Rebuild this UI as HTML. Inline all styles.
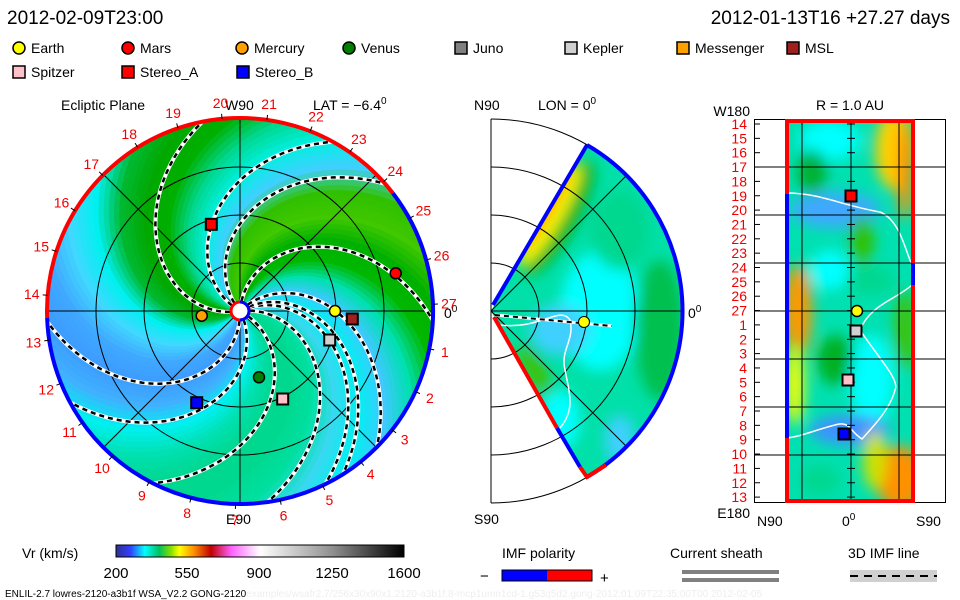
<!DOCTYPE html>
<html><head><meta charset="utf-8">
<style>
html,body{margin:0;padding:0;background:#fff;}
svg{display:block;font-family:"Liberation Sans",sans-serif;}
</style></head>
<body>
<svg id="svg" width="960" height="600" viewBox="0 0 960 600" xmlns="http://www.w3.org/2000/svg">
<defs>
  <clipPath id="eclClip"><circle cx="240" cy="311" r="193"/></clipPath>
  <clipPath id="wedgeClip"><path d="M491,311 L587,145 A192,192 0 0 1 587,477 Z"/></clipPath>
  <clipPath id="rectClip"><rect x="786" y="120" width="128" height="383"/></clipPath>
  <filter id="blur" x="-20%" y="-20%" width="140%" height="140%"><feGaussianBlur stdDeviation="7"/></filter>
  <linearGradient id="cbar" x1="0" x2="1" y1="0" y2="0">
    <stop offset="0" stop-color="#303090"/>
    <stop offset="0.05" stop-color="#3040ff"/>
    <stop offset="0.1" stop-color="#00ffff"/>
    <stop offset="0.15" stop-color="#00c060"/>
    <stop offset="0.19" stop-color="#80e000"/>
    <stop offset="0.22" stop-color="#ffff00"/>
    <stop offset="0.27" stop-color="#ff9000"/>
    <stop offset="0.33" stop-color="#c00000"/>
    <stop offset="0.4" stop-color="#ff60ff"/>
    <stop offset="0.5" stop-color="#ffffff"/>
    <stop offset="0.75" stop-color="#909090"/>
    <stop offset="1" stop-color="#000000"/>
  </linearGradient>
</defs>

<!-- header -->
<text x="7" y="24" font-size="19">2012-02-09T23:00</text>
<text x="950" y="24" font-size="19" text-anchor="end">2012-01-13T16 +27.27 days</text>

<g id="legend" font-size="14"></g>

<!-- left panel -->
<g>
  <text x="61" y="110" font-size="14">Ecliptic Plane</text>
  <text x="225" y="110" font-size="14">W90</text>
  <text x="313" y="110" font-size="14">LAT = −6.4<tspan font-size="10" dy="-6">0</tspan></text>
  <text x="226" y="524" font-size="14">E90</text>
  <text x="444" y="318" font-size="14">0<tspan font-size="10" dy="-6">0</tspan></text>
  <g id="eclBands" clip-path="url(#eclClip)"></g>
  <g id="eclGrid" fill="none" stroke="#000" stroke-width="1">
    <circle cx="240" cy="311" r="48"/><circle cx="240" cy="311" r="96"/><circle cx="240" cy="311" r="144"/>
    <line x1="47" y1="311" x2="433" y2="311"/><line x1="240" y1="118" x2="240" y2="504"/>
    <line x1="104" y1="175" x2="376" y2="447"/><line x1="104" y1="447" x2="376" y2="175"/>
  </g>
  <g id="eclLines" clip-path="url(#eclClip)"></g>
  <g id="eclRing"></g>
  <g id="eclLabels" font-size="14" fill="#f00000"></g>
  <g>
    <circle cx="240" cy="311" r="9" fill="#fff" stroke="#f00" stroke-width="3"/>
    <path d="M240,302 A9,9 0 0 1 240,320" fill="none" stroke="#00f" stroke-width="3"/>
  </g>
  <g id="eclBodies"></g>
</g>

<!-- middle panel -->
<g>
  <text x="474" y="110" font-size="14">N90</text>
  <text x="538" y="110" font-size="14">LON = 0<tspan font-size="10" dy="-6">0</tspan></text>
  <text x="688" y="318" font-size="14">0<tspan font-size="10" dy="-6">0</tspan></text>
  <text x="474" y="524" font-size="14">S90</text>
  <g clip-path="url(#wedgeClip)">
    <rect x="480" y="130" width="210" height="360" fill="#00e0a8"/>
    <g filter="url(#blur)">
      <ellipse cx="600" cy="311" rx="40" ry="60" fill="#00ffff"/>
      <ellipse cx="560" cy="330" rx="30" ry="25" fill="#40d0ff"/>
      <ellipse cx="660" cy="330" rx="25" ry="70" fill="#00c050"/>
      <ellipse cx="620" cy="230" rx="30" ry="40" fill="#00d890"/>
      <ellipse cx="558" cy="218" rx="20" ry="65" fill="#00b020" transform="rotate(30 558 218)"/>
      <ellipse cx="550" cy="215" rx="12" ry="58" fill="#ffff00" transform="rotate(30 550 215)"/>
      <ellipse cx="544" cy="208" rx="9" ry="50" fill="#ff9800" transform="rotate(30 544 208)"/>
      <ellipse cx="535" cy="370" rx="10" ry="30" fill="#40c000" transform="rotate(-30 535 370)"/>
      <ellipse cx="620" cy="440" rx="15" ry="25" fill="#40d0ff"/>
      <ellipse cx="560" cy="420" rx="20" ry="30" fill="#00ffff"/>
    </g>
  </g>
  <g fill="none" stroke="#000" stroke-width="1">
    <line x1="491" y1="119" x2="491" y2="503"/>
    <path d="M491,263 A48,48 0 0 1 491,359"/>
    <path d="M491,215 A96,96 0 0 1 491,407"/>
    <path d="M491,167 A144,144 0 0 1 491,455"/>
    <path d="M491,119 A192,192 0 0 1 491,503"/>
    <line x1="491" y1="311" x2="683" y2="311"/>
    <line x1="491" y1="311" x2="627" y2="175"/>
    <line x1="491" y1="311" x2="627" y2="447"/>
  </g>
  <path d="M500,325 C540,330 560,305 570,320 C575,340 560,350 565,370 C570,395 575,410 560,428" fill="none" stroke="#fff" stroke-width="1.5"/>
  <g fill="none" stroke-width="4">
    <path d="M493,305 L587,145" stroke="#0000ff"/>
    <path d="M587,145 A192,192 0 0 1 587,477" stroke="#0000ff"/>
    <path d="M494,317 L557,428" stroke="#ff0000"/>
    <path d="M557,428 L580,467" stroke="#0000ff"/>
    <path d="M580,467 L587,477 L606,465" stroke="#ff0000"/>
  </g>
  <line x1="495" y1="315" x2="612" y2="326" stroke="#fff" stroke-width="3"/>
  <line x1="495" y1="315" x2="612" y2="326" stroke="#000" stroke-width="2" stroke-dasharray="5,4"/>
  <circle cx="584" cy="322" r="5.5" fill="#ffff00" stroke="#000"/>
</g>

<!-- right panel -->
<g>
  <text x="750" y="116" font-size="14" text-anchor="end">W180</text>
  <text x="850" y="110" font-size="14" text-anchor="middle">R = 1.0 AU</text>
  <text x="750" y="518" font-size="14" text-anchor="end">E180</text>
  <text x="757" y="526" font-size="14">N90</text>
  <text x="842" y="526" font-size="14">0<tspan font-size="10" dy="-6">0</tspan></text>
  <text x="916" y="526" font-size="14">S90</text>
  <g clip-path="url(#rectClip)">
    <rect x="786" y="120" width="128" height="383" fill="#00e0b0"/>
    <g filter="url(#blur)">
      <ellipse cx="830" cy="140" rx="30" ry="20" fill="#00ffff"/>
      <ellipse cx="812" cy="172" rx="15" ry="22" fill="#00b030"/>
      <ellipse cx="835" cy="210" rx="45" ry="18" fill="#40a8ff"/>
      <ellipse cx="862" cy="240" rx="12" ry="25" fill="#30c000"/>
      <ellipse cx="798" cy="310" rx="14" ry="45" fill="#ff9800"/>
      <ellipse cx="795" cy="385" rx="9" ry="40" fill="#ffff00"/>
      <ellipse cx="835" cy="360" rx="18" ry="25" fill="#00b020"/>
      <ellipse cx="872" cy="380" rx="22" ry="45" fill="#00ffff"/>
      <ellipse cx="850" cy="430" rx="40" ry="15" fill="#4090ff"/>
      <ellipse cx="895" cy="150" rx="20" ry="40" fill="#ffd000"/>
      <ellipse cx="905" cy="170" rx="8" ry="50" fill="#ff9000"/>
      <ellipse cx="900" cy="478" rx="24" ry="32" fill="#ff9000"/>
      <ellipse cx="875" cy="460" rx="12" ry="30" fill="#d0e000"/>
      <ellipse cx="905" cy="330" rx="10" ry="40" fill="#40c000"/>
      <ellipse cx="820" cy="480" rx="20" ry="15" fill="#00d890"/>
      <ellipse cx="870" cy="280" rx="25" ry="15" fill="#00d890"/>
      <ellipse cx="830" cy="270" rx="20" ry="20" fill="#00ffff"/>
    </g>
    <path d="M786,193 C820,193 840,205 880,212 C900,220 905,250 912,265" fill="none" stroke="#fff" stroke-width="1.5"/>
    <path d="M912,285 C895,300 870,305 860,330 C880,360 900,380 895,390 C890,410 870,430 862,439 C850,432 850,420 835,425 C815,430 800,437 786,438" fill="none" stroke="#fff" stroke-width="1.5"/>
  </g>
  <g fill="none" stroke="#000" stroke-width="1" id="rectGrid">
    <rect x="754.5" y="119.5" width="191" height="383"/>
    <line x1="802" y1="120" x2="802" y2="503"/><line x1="851" y1="120" x2="851" y2="503"/><line x1="899" y1="120" x2="899" y2="503"/>
  </g>
  <g fill="none" stroke-width="4">
    <rect x="787" y="121" width="126" height="380" stroke="#ff0000"/>
    <line x1="787" y1="194" x2="787" y2="438" stroke="#0000ff"/>
    <line x1="913" y1="263" x2="913" y2="285" stroke="#0000ff"/>
  </g>
  <g id="rectLabels" font-size="14" fill="#f00000"></g>
  <g id="rectBodies"></g>
</g>

<!-- bottom legend -->
<g>
  <text x="22" y="558" font-size="14">Vr (km/s)</text>
  <rect x="116" y="545" width="288" height="12" fill="url(#cbar)" stroke="#000"/>
  <g font-size="15" text-anchor="middle">
    <text x="116" y="578">200</text><text x="187" y="578">550</text><text x="259" y="578">900</text><text x="332" y="578">1250</text><text x="404" y="578">1600</text>
  </g>
</g>
<text x="5" y="597" font-size="10">ENLIL-2.7 lowres-2120-a3b1f WSA_V2.2 GONG-2120<tspan fill="#eeeeee">examples/wsafr2.7/256x30x90x1.2120-a3b1f.8-mcp1umn1cd-1.g53q5d2.gong-2012:01:09T22:35:00T00    2012-02-05</tspan></text>
<g>
  <text x="502" y="558" font-size="14">IMF polarity</text>
  <text x="480" y="581" font-size="15">−</text>
  <rect x="502" y="570" width="45" height="11" fill="#0000ff"/>
  <rect x="547" y="570" width="45" height="11" fill="#ff0000"/>
  <rect x="502" y="570" width="90" height="11" fill="none" stroke="#000"/>
  <text x="600" y="583" font-size="15">+</text>
</g>
<g>
  <text x="670" y="558" font-size="14">Current sheath</text>
  <rect x="682" y="570" width="97" height="4" fill="#808080"/>
  <rect x="682" y="578" width="97" height="4" fill="#808080"/>
</g>
<g>
  <text x="848" y="558" font-size="14">3D IMF line</text>
  <rect x="850" y="570" width="87" height="12" fill="#d0d0d0"/>
  <line x1="850" y1="576" x2="937" y2="576" stroke="#000" stroke-width="2" stroke-dasharray="8,6"/>
</g>

<script>
const NS="http://www.w3.org/2000/svg";
function mk(tag,attrs,parent){const e=document.createElementNS(NS,tag);for(const k in attrs)e.setAttribute(k,attrs[k]);parent.appendChild(e);return e;}

// legend
const legendNames=["Earth","Mars","Mercury","Venus","Juno","Kepler","Messenger","MSL","Spitzer","Stereo_A","Stereo_B"];
const legendColors=["#ffff00","#ff0000","#ffa000","#008000","#808080","#d0d0d0","#ffa000","#a02020","#ffc0c8","#ff0000","#0000ff"];
const legendShapes=["c","c","c","c","s","s","s","s","s","s","s"];
const legendX=[13,122,236,343,455,565,677,787,13,122,237];
const legendRow=[0,0,0,0,0,0,0,0,1,1,1];
const lg=document.getElementById("legend");
legendNames.forEach((n,i)=>{
  const y=48+legendRow[i]*24,x=legendX[i]+6;
  let m;
  if(legendShapes[i]==="c") m=mk("circle",{cx:x,cy:y,r:6,fill:legendColors[i],stroke:"#000","stroke-width":1.5},lg);
  else m=mk("rect",{x:x-6,y:y-6,width:12,height:12,fill:legendColors[i],stroke:"#000","stroke-width":1.5},lg);
  
  
  const t=mk("text",{x:x+12,y:y+5},lg);t.textContent=n;
  
  
});

// ecliptic velocity field: colour of spiral band by footpoint angle (deg, every 15)
const bandColors=["#00e0a0","#38d8f0","#00f0f0","#40c8ff","#00e0b0","#00b800","#00b000","#40c800","#30c000","#40d0ff","#00f0e0","#00d890","#00b000","#00a800","#00b830","#00f0f0","#40d8ff","#40a8ff","#3c9cff","#40b0ff","#00f0f0","#00e0b0","#00d890","#00d890"];
const spiralRate=0.46; // deg per px
const CX=240,CY=311,R=193;
function hex2rgb(h){return [1,3,5].map(i=>parseInt(h.substr(i,2),16));}
function mix(a,b,t){const A=hex2rgb(a),B=hex2rgb(b);return "rgb("+A.map((v,i)=>Math.round(v+(B[i]-v)*t)).join(",")+")";}
function spiralPt(phi0,r){const a=(phi0-spiralRate*r)*Math.PI/180;return [CX+r*Math.cos(a),CY-r*Math.sin(a)];}
const bands=document.getElementById("eclBands");
mk("circle",{cx:CX,cy:CY,r:R,fill:"#00e0b0"},bands);
for(let p=0;p<360;p+=3){
  const i=Math.floor(p/15),t=(p%15)/15;
  const col=mix(bandColors[i],bandColors[(i+1)%24],t);
  let pts=[];
  for(let r=0;r<=210;r+=6)pts.push(spiralPt(p-0.5,r));
  for(let r=210;r>=0;r-=6)pts.push(spiralPt(p+3.5,r));
  const pg=mk("polygon",{points:pts.map(q=>q.join(",")).join(" "),fill:col},bands);
  
  
}

// IMF dashed lines (footpoint angles)
const imfFootpoints=[7,25,31,44,86,130,150,190,272,297,332];
const lines=document.getElementById("eclLines");
imfFootpoints.forEach(p=>{
  let d="";
  for(let r=10;r<=200;r+=3){const q=spiralPt(p,r);d+=(r===10?"M":"L")+q[0].toFixed(1)+","+q[1].toFixed(1);}
  mk("path",{d:d,fill:"none",stroke:"#fff","stroke-width":4},lines);
  const l=mk("path",{d:d,fill:"none",stroke:"#000","stroke-width":2.5,"stroke-dasharray":"5,4"},lines);
  
  
});

// polarity ring
const ring=document.getElementById("eclRing");
function arc(a1,a2,col){
  const p1=[CX+R*Math.cos(a1*Math.PI/180),CY-R*Math.sin(a1*Math.PI/180)];
  const p2=[CX+R*Math.cos(a2*Math.PI/180),CY-R*Math.sin(a2*Math.PI/180)];
  const large=(a2-a1)>180?1:0;
  mk("path",{d:`M${p1[0]},${p1[1]} A${R},${R} 0 ${large} 0 ${p2[0]},${p2[1]}`,fill:"none",stroke:col,"stroke-width":4},ring);
}
arc(37.6,182,"#ff0000");
arc(182,397.6,"#0000ff");

// carrington labels
const carrLabels=[1,2,3,4,5,6,7,8,9,10,11,12,13,14,15,16,17,18,19,20,21,22,23,24,25,26,27];
const labG=document.getElementById("eclLabels");
carrLabels.forEach(n=>{
  const a=(2-13.333*n)*Math.PI/180;
  const x=CX+209*Math.cos(a),y=CY-209*Math.sin(a)+5;
  const t=mk("text",{x:x.toFixed(1),y:y.toFixed(1),"text-anchor":"middle"},labG);
  t.textContent=n;
  mk("line",{x1:CX+193*Math.cos(a),y1:CY-193*Math.sin(a),x2:CX+198*Math.cos(a),y2:CY-198*Math.sin(a),stroke:"#000"},labG);
});

// bodies in ecliptic (x,y measured)
const bodyNames=["Earth","Mars","Mercury","Venus","Stereo_A","MSL","Kepler","Spitzer","Stereo_B"];
const bodyX=[335,395.7,201.7,259,211.3,352.3,329.7,282.7,196.7];
const bodyY=[311,273.3,315.7,377.3,224.3,319,340,399,402.7];
const bodyFill=["#ffff00","#ff0000","#ffa000","#008000","#ff0000","#a02020","#d0d0d0","#ffc0c8","#0000ff"];
const bodyShape=["c","c","c","c","s","s","s","s","s"];
const bg=document.getElementById("eclBodies");
bodyNames.forEach((n,i)=>{
  let m;
  if(bodyShape[i]==="c") m=mk("circle",{cx:bodyX[i],cy:bodyY[i],r:5.5,fill:bodyFill[i],stroke:"#000","stroke-width":1.5},bg);
  else m=mk("rect",{x:bodyX[i]-5.5,y:bodyY[i]-5.5,width:11,height:11,fill:bodyFill[i],stroke:"#000","stroke-width":2},bg);
  
  
});

// right panel
const rectLabels=[14,15,16,17,18,19,20,21,22,23,24,25,26,27,1,2,3,4,5,6,7,8,9,10,11,12,13];
const rl=document.getElementById("rectLabels");
rectLabels.forEach((n,i)=>{
  const y=124+i*14.35;
  const t=mk("text",{x:747,y:(y+5).toFixed(1),"text-anchor":"end"},rl);
  t.textContent=n;
  mk("line",{x1:755,y1:y,x2:760,y2:y,stroke:"#000"},rl);
  mk("line",{x1:847,y1:y,x2:855,y2:y,stroke:"#000"},rl);
});
const rg=document.getElementById("rectGrid");
[167,215,263,311,359,407,455].forEach(y=>mk("line",{x1:755,y1:y,x2:946,y2:y},rg));
const rbNames=["Stereo_A","Earth","Kepler","Spitzer","Stereo_B"];
const rbX=[851,857,856,848,844];
const rbY=[196,311,331,380,434];
const rbFill=["#ff0000","#ffff00","#d0d0d0","#ffc0c8","#0000ff"];
const rbShape=["s","c","s","s","s"];
const rb=document.getElementById("rectBodies");
rbNames.forEach((n,i)=>{
  let m;
  if(rbShape[i]==="c") m=mk("circle",{cx:rbX[i],cy:rbY[i],r:5.5,fill:rbFill[i],stroke:"#000","stroke-width":1.5},rb);
  else m=mk("rect",{x:rbX[i]-5.5,y:rbY[i]-5.5,width:11,height:11,fill:rbFill[i],stroke:"#000","stroke-width":2},rb);
  
  
});
</script>
</svg>
</body></html>
